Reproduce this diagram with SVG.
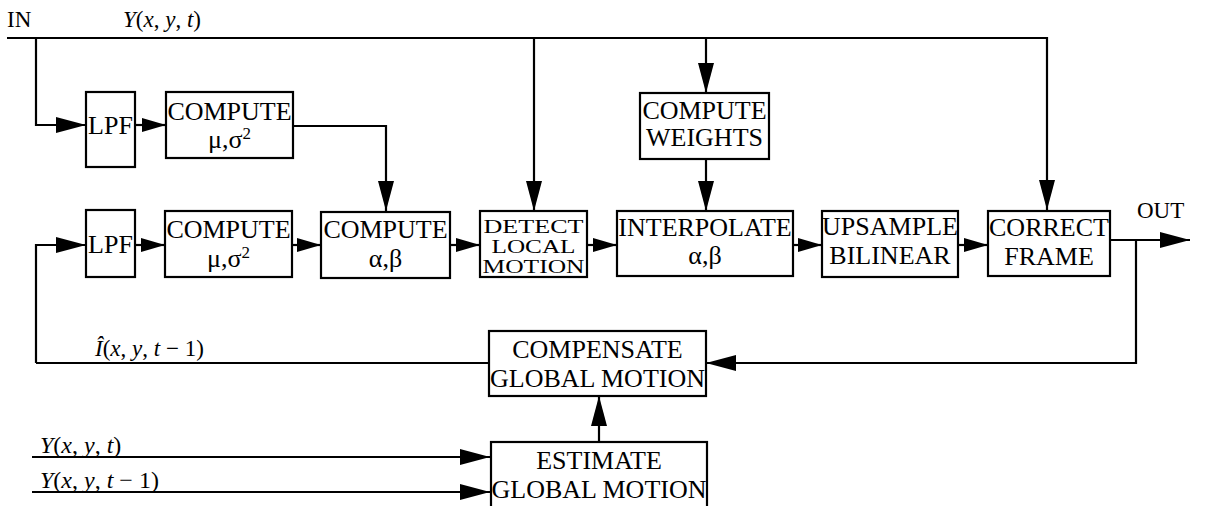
<svg xmlns="http://www.w3.org/2000/svg" width="1205" height="506" viewBox="0 0 1205 506">
<style>
.box{fill:#fff;stroke:#000;stroke-width:2.2}
.ln{fill:none;stroke:#000;stroke-width:2.2}
.t{font-family:"Liberation Serif","Times New Roman",serif;font-size:26px;fill:#000;text-anchor:middle}
.d{font-size:19px}
.m{font-family:"Liberation Serif","Times New Roman",serif;font-size:23px;fill:#000}
.i{font-style:italic}
</style>
<defs>
<marker id="aL" markerUnits="userSpaceOnUse" markerWidth="32" markerHeight="18" refX="30" refY="8" orient="auto">
<path d="M0,0 L30,8 L0,16 Z" fill="#000"/>
</marker>
<marker id="aS" markerUnits="userSpaceOnUse" markerWidth="26" markerHeight="16" refX="24" refY="7" orient="auto">
<path d="M0,0 L24,7 L0,14 Z" fill="#000"/>
</marker>
</defs>
<rect width="1205" height="506" fill="#fff"/>

<g id="connectors">
<path class="ln" d="M7,38 H1047 V210" marker-end="url(#aL)"/>
<path class="ln" d="M36,38 V125 H86" marker-end="url(#aL)"/>
<path class="ln" d="M135,125 H166" marker-end="url(#aS)"/>
<path class="ln" d="M293,126 H386 V211" marker-end="url(#aL)"/>
<path class="ln" d="M534,38 V211" marker-end="url(#aL)"/>
<path class="ln" d="M706,38 V93" marker-end="url(#aL)"/>
<path class="ln" d="M706,159 V211" marker-end="url(#aL)"/>
<path class="ln" d="M36,363 V245 H86" marker-end="url(#aL)"/>
<path class="ln" d="M135,245 H165" marker-end="url(#aS)"/>
<path class="ln" d="M292,245 H321" marker-end="url(#aS)"/>
<path class="ln" d="M450,245 H480" marker-end="url(#aS)"/>
<path class="ln" d="M587,245 H617" marker-end="url(#aS)"/>
<path class="ln" d="M793,245 H822" marker-end="url(#aS)"/>
<path class="ln" d="M958,245 H988" marker-end="url(#aS)"/>
<path class="ln" d="M1110,240 H1190" marker-end="url(#aL)"/>
<path class="ln" d="M1136,240 V363 H706" marker-end="url(#aL)"/>
<path class="ln" d="M489,363 H36"/>
<path class="ln" d="M599,442 V396" marker-end="url(#aL)"/>
<path class="ln" d="M32,457 H490" marker-end="url(#aL)"/>
<path class="ln" d="M32,492 H490" marker-end="url(#aL)"/>
</g>

<g id="labels">
<text class="m" x="7" y="27">IN</text>
<text class="m" x="123" y="27"><tspan class="i">Y</tspan>(<tspan class="i">x</tspan>, <tspan class="i">y</tspan>, <tspan class="i">t</tspan>)</text>
<text class="m" x="1137" y="218">OUT</text>
<text class="m" x="95" y="356"><tspan class="i">Î</tspan>(<tspan class="i">x</tspan>, <tspan class="i">y</tspan>, <tspan class="i">t</tspan> − 1)</text>
<text class="m" x="40" y="453" style="font-size:24px"><tspan class="i">Y</tspan>(<tspan class="i">x</tspan>, <tspan class="i">y</tspan>, <tspan class="i">t</tspan>)</text>
<text class="m" x="40" y="488" style="font-size:24px"><tspan class="i">Y</tspan>(<tspan class="i">x</tspan>, <tspan class="i">y</tspan>, <tspan class="i">t</tspan> − 1)</text>
</g>

<g id="lpf1">
<rect class="box" x="86" y="92" width="49" height="75"/>
<text class="t" x="110.5" y="134">LPF</text>
</g>
<g id="compute-mu-sigma-1">
<rect class="box" x="166" y="92" width="127" height="66"/>
<text class="t" x="229.5" y="120">COMPUTE</text>
<text class="t" x="229.5" y="148">μ,σ<tspan dy="-9" font-size="17">2</tspan></text>
</g>
<g id="compute-weights">
<rect class="box" x="640" y="93" width="129" height="66"/>
<text class="t" x="704.5" y="119">COMPUTE</text>
<text class="t" x="704.5" y="146">WEIGHTS</text>
</g>
<g id="lpf2">
<rect class="box" x="86" y="210" width="49" height="67"/>
<text class="t" x="110.5" y="253">LPF</text>
</g>
<g id="compute-mu-sigma-2">
<rect class="box" x="165" y="211" width="127" height="66"/>
<text class="t" x="228.5" y="238">COMPUTE</text>
<text class="t" x="228.5" y="267">μ,σ<tspan dy="-9" font-size="17">2</tspan></text>
</g>
<g id="compute-alpha-beta">
<rect class="box" x="321" y="212" width="129" height="66"/>
<text class="t" x="385.5" y="238">COMPUTE</text>
<text class="t" x="385.5" y="267">α,β</text>
</g>
<g id="detect-local-motion">
<rect class="box" x="480" y="211" width="107" height="66"/>
<text class="t d" x="533.5" y="233" textLength="100" lengthAdjust="spacingAndGlyphs">DETECT</text>
<text class="t d" x="533.5" y="253" textLength="84" lengthAdjust="spacingAndGlyphs">LOCAL</text>
<text class="t d" x="533.5" y="273" textLength="102" lengthAdjust="spacingAndGlyphs">MOTION</text>
</g>
<g id="interpolate">
<rect class="box" x="617" y="211" width="176" height="65"/>
<text class="t" x="705" y="236">INTERPOLATE</text>
<text class="t" x="705" y="264">α,β</text>
</g>
<g id="upsample">
<rect class="box" x="822" y="211" width="136" height="66"/>
<text class="t" x="890" y="235">UPSAMPLE</text>
<text class="t" x="890" y="264">BILINEAR</text>
</g>
<g id="correct-frame">
<rect class="box" x="988" y="211" width="122" height="65"/>
<text class="t" x="1049" y="236">CORRECT</text>
<text class="t" x="1049" y="265">FRAME</text>
</g>
<g id="compensate">
<rect class="box" x="489" y="331" width="217" height="65"/>
<text class="t" x="597.5" y="358">COMPENSATE</text>
<text class="t" x="597.5" y="387">GLOBAL MOTION</text>
</g>
<g id="estimate">
<rect class="box" x="491" y="442" width="216" height="80"/>
<text class="t" x="599" y="469">ESTIMATE</text>
<text class="t" x="599" y="498">GLOBAL MOTION</text>
</g>
</svg>
